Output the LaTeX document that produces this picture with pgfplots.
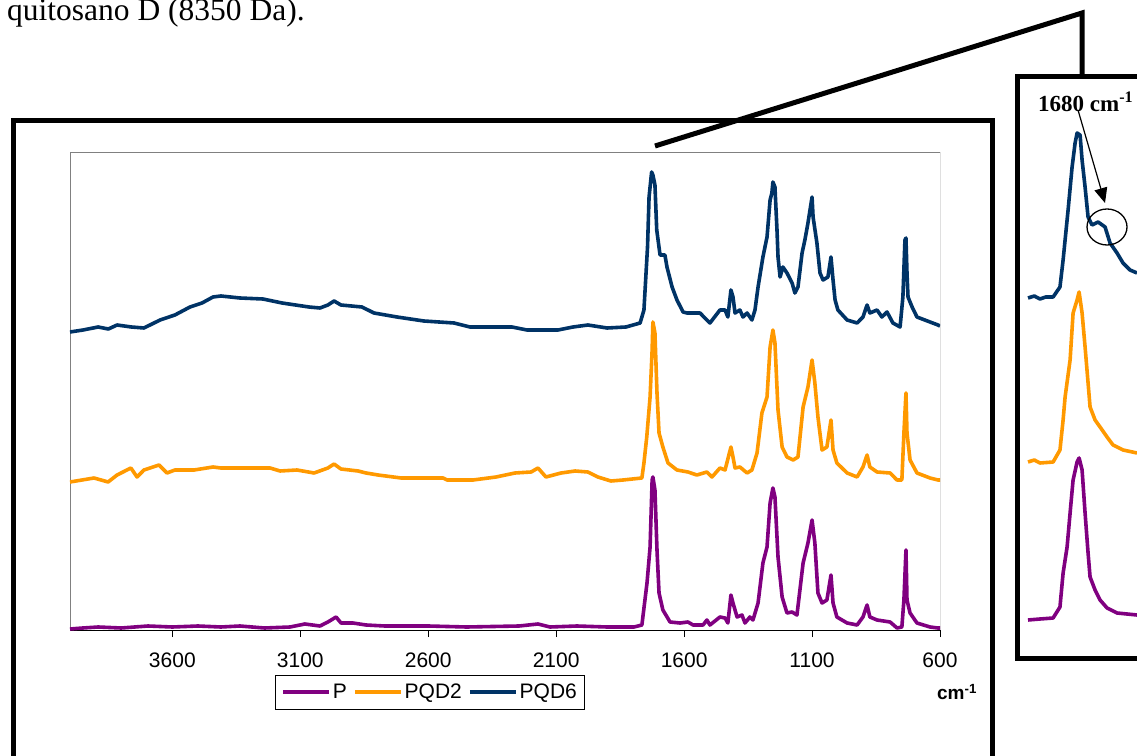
\documentclass[border=0pt]{standalone}
\usepackage{pgfplots}
\pgfplotsset{compat=1.18}
\usepackage{fontspec}
\setmainfont{Liberation Sans}
\newfontfamily\seriffont{Liberation Serif}
\usetikzlibrary{arrows.meta}
\definecolor{cP}{HTML}{800080}
\definecolor{cQ2}{HTML}{FF9900}
\definecolor{cQ6}{HTML}{003366}
\begin{document}
\begin{tikzpicture}[x=1pt,y=1pt]
\useasboundingbox (0,0) rectangle (1137,755);
% caption fragment at top
\node[anchor=base west, inner sep=0pt] at (7,734) {\seriffont\fontsize{31.5}{36}\selectfont quitosano D (8350 Da).};
% frames
\draw[line width=5pt] (13,-10) -- (13,634) -- (992,634) -- (992,-10);
\draw[line width=5pt] (1200,97) -- (1017,97) -- (1017,678) -- (1200,678);
\draw[line width=5pt, line join=miter] (655,609) -- (1082,742) -- (1082,678);

\begin{axis}[
  at={(70pt,125pt)}, anchor=south west,
  scale only axis, width=870pt, height=478pt,
  xmin=600, xmax=4000, x dir=reverse,
  ymin=0, ymax=478,
  axis x line*=bottom, axis y line=none,
  x axis line style={black, line width=1pt},
  xtick={600,1100,1600,2100,2600,3100,3600},
  tick style={black, line width=0.9pt},
  tick align=outside, major tick length=7pt,
  xticklabel style={font=\fontsize{21}{24}\selectfont, yshift=-12pt},
  /pgf/number format/.cd, 1000 sep={}, assume math mode=true,
  /pgfplots/.cd,
  legend columns=3,
  legend style={at={(0.4138,-0.13)}, anchor=center, draw=black, line width=0.8pt,
    font=\fontsize{21}{24}\selectfont, inner xsep=6pt, inner ysep=7pt,
    /tikz/every even column/.append style={column sep=4pt}},
  legend image code/.code={\draw[#1, line width=3.8pt] (0pt,0pt) -- (46pt,0pt);},
  every axis plot/.append style={line width=3.6pt, line join=round, no markers},
]
\draw[gray, line width=0.9pt] (rel axis cs:0,0) -- (rel axis cs:0,1) -- (rel axis cs:1,1);
\draw[black, line width=0.9pt] (rel axis cs:1,1) -- (rel axis cs:1,0);
\addplot[cP] coordinates {(4000,1)(3950,2)(3890,3)(3800,2)(3695,4)(3600,3)(3500,4)(3410,3)(3336,4)(3240,2)(3140,3)(3082,6)(3023,4)(2992,8)(2960,13)(2941,7)(2894,7)(2843,5)(2769,4)(2600,4)(2450,3)(2245,4)(2171,6)(2124,3)(2019,4)(1900,3)(1796,3)(1765,5)(1745,47)(1733,83)(1725,150)(1722,153)(1714,140)(1706,80)(1698,37)(1683,20)(1655,8)(1616,7)(1585,8)(1565,5)(1526,5)(1511,10)(1499,5)(1460,13)(1440,12)(1429,7)(1417,35)(1409,27)(1393,13)(1374,15)(1362,7)(1343,13)(1331,10)(1311,27)(1292,67)(1276,83)(1264,127)(1253,142)(1245,133)(1233,73)(1217,33)(1198,17)(1178,18)(1159,15)(1135,67)(1116,87)(1100,110)(1089,87)(1077,37)(1061,27)(1042,30)(1026,55)(1018,27)(1003,13)(963,7)(924,5)(901,13)(885,25)(874,13)(846,10)(795,8)(768,2)(749,3)(741,30)(733,80)(729,30)(717,17)(690,7)(639,3)(608,2)(600,2)};
\addlegendentry{P}
\addplot[cQ2] coordinates {(4000,148)(3906,152)(3851,148)(3816,155)(3762,162)(3738,153)(3711,160)(3652,165)(3621,157)(3590,160)(3515,160)(3441,163)(3410,162)(3218,162)(3179,159)(3113,160)(3046,157)(2992,162)(2968,166)(2941,161)(2874,159)(2843,157)(2796,155)(2706,152)(2542,152)(2526,150)(2425,150)(2335,153)(2261,157)(2198,158)(2171,162)(2140,153)(2081,157)(2026,159)(1976,158)(1937,153)(1886,149)(1839,150)(1765,152)(1757,167)(1746,193)(1733,233)(1725,280)(1722,308)(1714,297)(1706,237)(1698,197)(1683,183)(1663,167)(1628,160)(1585,158)(1550,155)(1511,158)(1491,153)(1460,162)(1440,160)(1417,183)(1409,173)(1401,162)(1382,163)(1354,157)(1335,160)(1315,177)(1296,217)(1276,233)(1264,283)(1253,300)(1245,287)(1233,220)(1217,183)(1198,173)(1174,170)(1155,173)(1135,223)(1116,243)(1100,270)(1089,247)(1077,213)(1061,180)(1042,183)(1026,210)(1018,180)(1003,167)(963,157)(924,153)(901,163)(885,175)(874,163)(846,158)(795,157)(768,150)(749,150)(741,197)(733,237)(729,197)(717,170)(690,157)(639,152)(608,150)(600,150)};
\addlegendentry{PQD2}
\addplot[cQ6] coordinates {(4000,298)(3949,300)(3890,303)(3850,301)(3816,305)(3760,303)(3711,302)(3648,310)(3590,315)(3531,323)(3484,327)(3441,333)(3410,334)(3336,332)(3246,331)(3171,327)(3066,323)(3023,322)(2992,325)(2968,329)(2941,325)(2859,323)(2812,317)(2722,313)(2617,309)(2499,307)(2437,303)(2273,303)(2214,300)(2093,300)(2034,303)(1976,305)(1901,302)(1827,303)(1772,307)(1757,320)(1751,347)(1743,383)(1737,433)(1727,458)(1722,455)(1714,445)(1707,400)(1694,375)(1675,375)(1667,363)(1647,343)(1628,330)(1604,318)(1589,317)(1538,317)(1511,310)(1499,307)(1460,320)(1440,320)(1429,313)(1417,340)(1409,333)(1401,317)(1382,320)(1370,313)(1354,317)(1335,310)(1323,320)(1311,343)(1292,373)(1276,393)(1264,430)(1257,437)(1253,448)(1245,443)(1237,400)(1233,373)(1225,353)(1214,363)(1198,357)(1178,347)(1167,337)(1155,343)(1139,377)(1128,390)(1116,407)(1100,433)(1096,413)(1081,387)(1069,357)(1057,350)(1038,353)(1026,373)(1018,350)(1010,330)(999,320)(963,310)(924,307)(901,313)(885,325)(874,317)(846,320)(827,313)(807,318)(784,307)(756,303)(745,333)(737,390)(733,392)(729,357)(725,333)(709,323)(690,313)(639,308)(608,305)(600,304)};
\addlegendentry{PQD6}
\end{axis}

% inset
\begin{axis}[
  at={(1028pt,95pt)}, anchor=south west,
  scale only axis, width=109pt, height=583pt,
  xmin=1615, xmax=1806, x dir=reverse,
  ymin=0, ymax=583, hide axis, clip=false,
  every axis plot/.append style={line width=3.6pt, line join=round, no markers},
]
\addplot[cP] coordinates {(1806,40)(1785,41)(1762,42)(1750,53)(1744.5,87)(1737.5,113)(1732.25,147)(1727,180)(1720,198)(1716.5,202)(1711.25,190)(1706,147)(1700.75,107)(1697.25,83)(1688.5,70)(1679.75,60)(1667.5,52)(1650,47)(1615,45)};
\addplot[cQ2] coordinates {(1806,198)(1795,200)(1785,197)(1762,198)(1750,210)(1744.5,240)(1741,263)(1732.25,300)(1727,347)(1720,360)(1716.5,368)(1711.25,347)(1706,313)(1700.75,277)(1697.25,253)(1688.5,240)(1679.75,233)(1667.5,223)(1657,215)(1639.5,210)(1615,207)};
\addplot[cQ6] coordinates {(1806,362)(1795,364)(1785,361)(1775,363)(1762,363)(1750,373)(1744.5,400)(1735.75,450)(1728.75,493)(1723.5,517)(1720,527)(1714.75,525)(1711.25,500)(1706,473)(1700.75,443)(1693.75,435)(1683.25,438)(1671,433)(1662.25,417)(1650,407)(1639.5,397)(1627.25,390)(1615,387)};
\end{axis}

% inset annotations
\node[anchor=base west, inner sep=0pt] at (1038,643) {\seriffont\bfseries\fontsize{23}{26}\selectfont 1680 cm\textsuperscript{-1}};
\draw[line width=1.2pt, -{Triangle[length=15pt,width=13pt]}] (1078,645) -- (1105,552);
\draw[line width=1.3pt] (1107,528) ellipse (20 and 18);
% axis unit
\node[anchor=center, inner sep=0pt] at (957,63) {\bfseries\fontsize{19}{22}\selectfont cm\textsuperscript{-1}};
\end{tikzpicture}
\end{document}
